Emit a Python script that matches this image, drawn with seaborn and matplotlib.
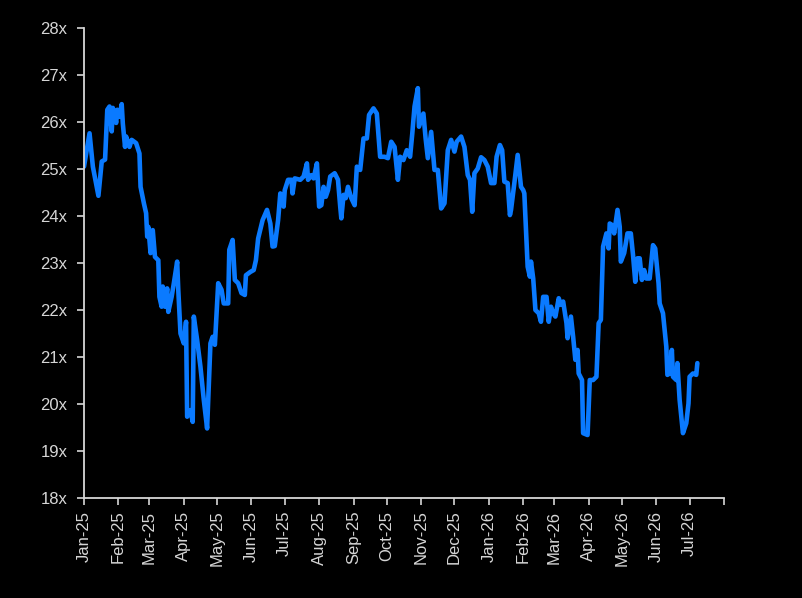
import pandas as pd
import seaborn as sns
from matplotlib import pyplot as plt

start_date = "2025-01-01"

# days after 1 Jan 2025 and the multiple
day_offsets = [
    0, 5, 8, 13, 16, 19, 21, 23, 25, 26, 29, 30, 32, 34, 35, 37, 38, 41, 43, 47,
    50, 51, 54, 56, 57, 58, 60, 62, 64, 67, 68, 70, 71, 73, 75, 76, 79, 81, 84, 85,
    87, 90, 92, 93, 96, 98, 99, 102, 105, 108, 111, 114, 116, 118, 121, 124, 126, 130, 131, 134,
    136, 139, 142, 145, 146, 150, 153, 155, 157, 161, 165, 168, 170, 172, 175, 177, 180, 181, 184, 187,
    188, 190, 195, 198, 201, 202, 205, 207, 210, 212, 214, 216, 218, 220, 222, 226, 229, 231, 232, 234,
    236, 238, 241, 244, 246, 249, 252, 255, 257, 261, 264, 267, 271, 274, 277, 280, 283, 285, 288, 291,
    294, 296, 298, 301, 302, 304, 306, 308, 310, 313, 316, 319, 322, 325, 328, 331, 334, 336, 340, 343,
    346, 348, 350, 352, 355, 358, 361, 364, 367, 370, 372, 375, 377, 379, 382, 384, 385, 388, 391, 394,
    396, 397, 400, 402, 403, 405, 407, 410, 412, 414, 417, 419, 421, 423, 425, 428, 430, 432, 435, 436,
    439, 441, 443, 445, 446, 449, 450, 454, 456, 459, 462, 464, 466, 468, 471, 473, 474, 476, 478, 481,
    483, 484, 487, 490, 493, 495, 497, 499, 501, 503, 505, 507, 510, 513, 515, 518, 519, 522, 525, 526,
    528, 530, 531, 534, 535, 537, 540, 543, 545, 546, 549, 552, 553,
]
pe_multiple = [
    25.05, 25.76, 25.05, 24.43, 25.16, 25.20, 26.26, 26.33, 25.80, 26.30, 25.98, 26.26, 26.11, 26.38, 25.97, 25.47, 25.69, 25.47, 25.62, 25.55,
    25.33, 24.62, 24.27, 24.06, 23.56, 23.77, 23.21, 23.70, 23.13, 23.06, 22.28, 22.07, 22.50, 22.07, 22.46, 21.96, 22.28, 22.57, 23.03, 22.43,
    21.50, 21.29, 21.75, 19.73, 19.87, 19.62, 21.86, 21.36, 20.79, 20.09, 19.48, 21.29, 21.43, 21.26, 22.57, 22.43, 22.14, 22.14, 23.28, 23.49,
    22.64, 22.57, 22.36, 22.32, 22.74, 22.81, 22.85, 23.06, 23.52, 23.91, 24.13, 23.84, 23.35, 23.36, 23.91, 24.48, 24.20, 24.55, 24.77, 24.77,
    24.48, 24.80, 24.77, 24.84, 25.12, 24.77, 24.87, 24.80, 25.12, 24.20, 24.23, 24.62, 24.41, 24.55, 24.84, 24.91, 24.77, 24.20, 23.95, 24.45,
    24.38, 24.62, 24.38, 24.23, 25.05, 24.98, 25.65, 25.65, 26.15, 26.29, 26.18, 25.26, 25.26, 25.23, 25.58, 25.47, 24.77, 25.26, 25.19, 25.40,
    25.26, 25.76, 26.33, 26.72, 25.90, 26.04, 26.18, 25.65, 25.23, 25.79, 24.98, 24.98, 24.16, 24.27, 25.40, 25.62, 25.37, 25.58, 25.69, 25.47,
    24.87, 24.77, 24.09, 24.91, 25.01, 25.25, 25.19, 25.05, 24.70, 24.70, 25.26, 25.51, 25.40, 24.73, 24.70, 24.02, 24.13, 24.70, 25.30, 24.62,
    24.55, 24.48, 22.92, 22.71, 23.03, 22.67, 22.00, 21.93, 21.75, 22.28, 22.28, 21.75, 22.07, 21.93, 21.86, 22.25, 22.11, 22.18, 21.72, 21.40,
    21.86, 21.43, 20.94, 21.15, 20.65, 20.51, 19.38, 19.34, 20.51, 20.51, 20.58, 21.72, 21.79, 23.35, 23.63, 23.31, 23.84, 23.81, 23.63, 24.13,
    23.77, 23.03, 23.21, 23.63, 23.63, 23.17, 22.60, 23.10, 23.10, 22.64, 22.85, 22.67, 22.67, 23.38, 23.31, 22.57, 22.14, 21.93, 21.22, 20.62,
    20.65, 21.15, 20.58, 20.51, 20.87, 20.09, 19.38, 19.59, 20.01, 20.58, 20.65, 20.62, 20.87,
]
y_ticks = [18, 19, 20, 21, 22, 23, 24, 25, 26, 27, 28]

dates = pd.to_datetime(start_date) + pd.to_timedelta(day_offsets, unit="D")
df = pd.DataFrame({"date": dates, "multiple": pe_multiple})

sns.set_theme(style="ticks")
plt.rcParams["font.family"] = ["Liberation Sans", "DejaVu Sans"]
axis_grey = "#d6d6d6"

fig = plt.figure(figsize=(8.03, 5.98), dpi=100, facecolor="black")
ax = fig.add_axes([0.1046, 0.1672, 0.797, 0.786])
ax.set_facecolor("black")

sns.lineplot(data=df, x="date", y="multiple", ax=ax, color="#0a7aff",
             linewidth=3.3, estimator=None, sort=False)

month_ticks = pd.date_range("2025-01-01", "2026-08-01", freq="MS")
ax.set_xlim(month_ticks[0], month_ticks[-1])
ax.set_xticks(month_ticks)
ax.set_xticklabels([d.strftime("%b-%y") for d in month_ticks[:-1]] + [""],
                   rotation=90, fontsize=12, color=axis_grey)

ax.set_ylim(18, 28)
ax.set_yticks(y_ticks)
ax.set_yticklabels([f"{v}x" for v in y_ticks], fontsize=12, color=axis_grey)

ax.set_xlabel("")
ax.set_ylabel("")
sns.despine(ax=ax)
for side in ["left", "bottom"]:
    ax.spines[side].set_color(axis_grey)
    ax.spines[side].set_linewidth(1.3)
ax.tick_params(colors=axis_grey, length=5, width=1.2)
ax.tick_params(axis="y", pad=7)
ax.tick_params(axis="x", pad=4)

fig.savefig("out.png", dpi=100, facecolor="black")
